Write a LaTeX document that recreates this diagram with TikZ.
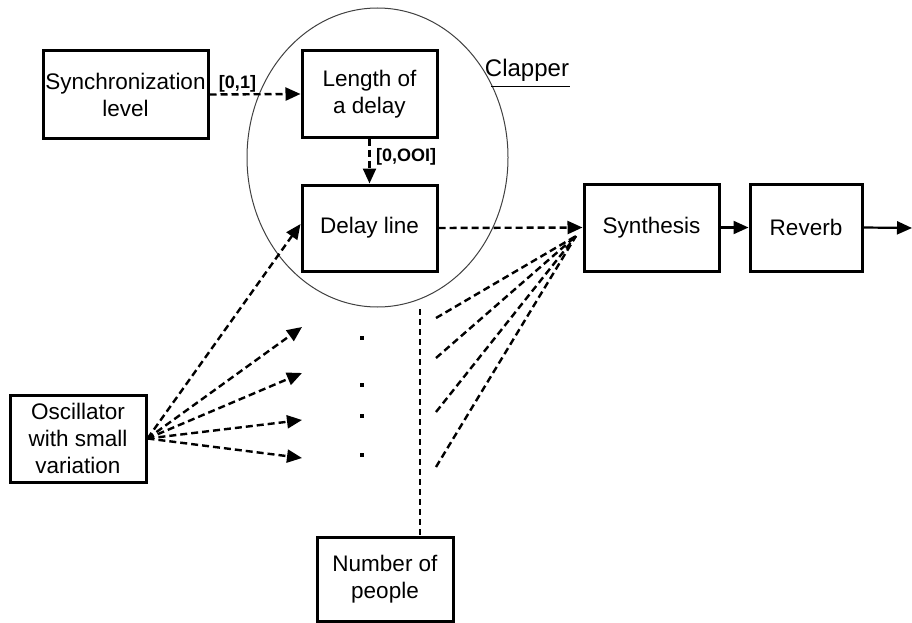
\documentclass[tikz,border=0pt]{standalone}
\usepackage{fontspec}
\setmainfont{Liberation Sans}
\usetikzlibrary{arrows.meta}
\begin{document}
\begin{tikzpicture}[x=1pt,y=-1pt,
  box/.style={draw, line width=3pt, align=center, inner sep=0pt,
    font=\fontsize{22.5}{27}\selectfont},
  dsh/.style={line width=2.4pt, dash pattern=on 7pt off 4pt},
  thindsh/.style={line width=1.8pt, dash pattern=on 6pt off 4pt},
  tip/.style={-{Triangle[length=15pt,width=13pt]}},
  lbl/.style={font=\fontsize{18}{20}\bfseries\selectfont, inner sep=0pt},
  dotnode/.style={fill, minimum size=3.5pt, inner sep=0pt}]
\useasboundingbox (0,0) rectangle (912,623);

% ellipse
\draw[line width=1pt, black!75] (377.5,157.5) ellipse [x radius=130.5, y radius=149.5];

% boxes
\node[box, minimum width=165, minimum height=87] (sync) at (125.5,94.5) {Synchronization\\level};
\node[box, minimum width=135, minimum height=86] (len) at (369.5,94) {Length of\\a delay};
\node[box, minimum width=135, minimum height=86] (dl) at (369.5,228) {Delay line};
\node[box, minimum width=135, minimum height=87] (syn) at (651.5,227.5) {Synthesis};
\node[box, minimum width=112, minimum height=87] (rev) at (806,227.5) {Reverb};
\node[box, minimum width=136, minimum height=87] (osc) at (78,438.5) {Oscillator\\with small\\variation};
\node[box, minimum width=136, minimum height=84] (nop) at (385,579) {Number of\\people};

% labels
\node[font=\fontsize{24}{26}\selectfont, inner sep=0pt] (clap) at (527,70) {Clapper};
\coordinate (ulA) at (491,87);
\coordinate (ulB) at (570,87);
\draw[line width=1pt] (ulA) -- (ulB);
\node[lbl] (l01) at (237.5,84) {[0,1]};
\node[lbl, anchor=west] (l001) at (376,157) {[0,OOI]};

% connectors
\draw[dsh, tip] (sync.east) -- (len.west);
\draw[dsh, tip] (len.south) -- (dl.north);
\draw[dsh, tip] (dl.east) -- (syn.west);
\draw[line width=2.2pt, tip] (syn.east) -- (rev.west);
\coordinate (out) at (912,228);
\draw[line width=2.2pt, tip] (rev.east) -- (out);

% oscillator fan
\coordinate (o1) at (302,327);
\coordinate (o2) at (302,373);
\coordinate (o3) at (302,420);
\coordinate (o4) at (302,458);
\draw[dsh, tip] (osc.east) -- ([yshift=4pt]dl.west);
\foreach \c in {o1,o2,o3,o4} \draw[dsh, tip] (osc.east) -- (\c);

% dots
\node[dotnode] (d1) at (362,338) {};
\node[dotnode] (d2) at (362,385) {};
\node[dotnode] (d3) at (362,416) {};
\node[dotnode] (d4) at (362,455) {};

% number of people line
\coordinate (npTop) at (420,309);
\draw[thindsh] (npTop) -- (npTop |- nop.north);

% fan to synthesis
\coordinate (conv) at (576,236);
\coordinate (f1) at (436,318);
\coordinate (f2) at (436,358);
\coordinate (f3) at (436,412);
\coordinate (f4) at (436,467);
\foreach \c in {f1,f2,f3,f4} \draw[dsh] (\c) -- (conv);
\end{tikzpicture}
\end{document}
